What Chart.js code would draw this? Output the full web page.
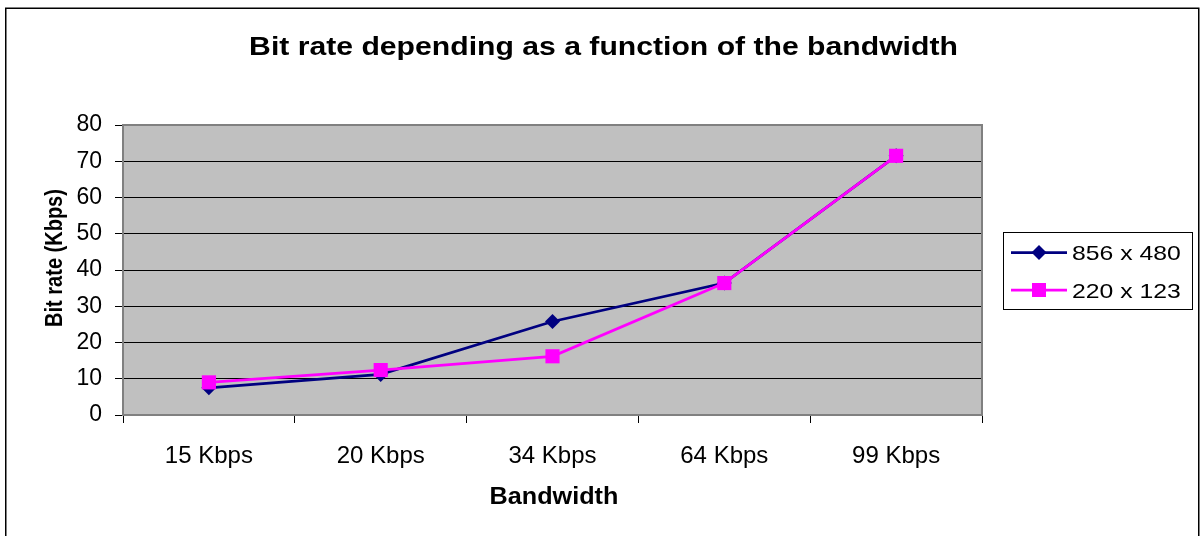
<!DOCTYPE html>
<html>
<head>
<meta charset="utf-8">
<script src="https://cdn.jsdelivr.net/npm/chart.js@4/dist/chart.umd.min.js"></script>
<style>
  html, body { margin: 0; padding: 0; background: #fff; }
  canvas { display: block; }
</style>
</head>
<body>
<canvas id="chart" width="1202" height="536"></canvas>
<script>
// Bandwidth categories on the x axis
const bandwidths = ['15 Kbps', '20 Kbps', '34 Kbps', '64 Kbps', '99 Kbps'];
// Measured bit rate (Kbps) per resolution
const rate856x480 = [7.5, 11.2, 25.8, 36.4, 71.5];
const rate220x123 = [9.0, 12.4, 16.2, 36.4, 71.5];
// Series names
const seriesNames = ['856 x 480', '220 x 123'];
// Y axis range and step
const yMin = 0, yMax = 80, yStep = 10;

const chartTitle = 'Bit rate depending as a function of the bandwidth';
const xTitle = 'Bandwidth';
const yTitle = 'Bit rate (Kbps)';

const FONT = "'Liberation Sans', Arial, Helvetica, sans-serif";
const NAVY = '#000080';
const MAGENTA = '#FF00FF';

// Background, frames, titles and legend drawn around the Chart.js plot
const decorations = {
  id: 'decorations',
  beforeDraw(chart) {
    const ctx = chart.ctx;
    const a = chart.chartArea;
    ctx.save();
    ctx.fillStyle = '#ffffff';
    ctx.fillRect(0, 0, chart.width, chart.height);
    // outer frame
    ctx.strokeStyle = '#000000';
    ctx.lineWidth = 1.5;
    ctx.strokeRect(5.75, 8.25, 1193, 540);
    // plot area fill
    ctx.fillStyle = '#C0C0C0';
    ctx.fillRect(a.left, a.top, a.right - a.left, a.bottom - a.top);
    ctx.restore();
  },
  beforeDatasetsDraw(chart) {
    const ctx = chart.ctx;
    const a = chart.chartArea;
    ctx.save();
    ctx.strokeStyle = '#808080';
    ctx.lineWidth = 2;
    ctx.beginPath();
    ctx.moveTo(a.left, a.top);
    ctx.lineTo(a.right, a.top);
    ctx.lineTo(a.right, a.bottom);
    ctx.stroke();
    ctx.restore();
  },
  afterDraw(chart) {
    const ctx = chart.ctx;
    ctx.save();
    ctx.fillStyle = '#000000';

    // chart title
    ctx.font = 'bold 26px ' + FONT;
    ctx.textAlign = 'center';
    ctx.textBaseline = 'alphabetic';
    ctx.save();
    ctx.translate(603.5, 55);
    ctx.scale(1.16, 1);
    ctx.fillText(chartTitle, 0, 0);
    ctx.restore();

    // x axis title
    ctx.font = 'bold 24px ' + FONT;
    ctx.save();
    ctx.translate(554, 504);
    ctx.scale(1.05, 1);
    ctx.fillText(xTitle, 0, 0);
    ctx.restore();

    // y axis title
    ctx.font = 'bold 20px ' + FONT;
    ctx.save();
    ctx.translate(61.5, 258);
    ctx.rotate(-Math.PI / 2);
    ctx.scale(1, 1.15);
    ctx.fillText(yTitle, 0, 0);
    ctx.restore();

    // legend
    const lx = 1003.5, ly = 232.5, lw = 189, lh = 77;
    ctx.fillStyle = '#ffffff';
    ctx.fillRect(lx, ly, lw, lh);
    ctx.strokeStyle = '#000000';
    ctx.lineWidth = 1;
    ctx.strokeRect(lx, ly, lw, lh);

    const rows = [
      { name: seriesNames[0], color: NAVY, y: 252.5, marker: 'diamond' },
      { name: seriesNames[1], color: MAGENTA, y: 290, marker: 'square' }
    ];
    rows.forEach(r => {
      ctx.strokeStyle = r.color;
      ctx.lineWidth = 2.75;
      ctx.beginPath();
      ctx.moveTo(1011, r.y);
      ctx.lineTo(1067, r.y);
      ctx.stroke();
      ctx.fillStyle = r.color;
      const cx = 1039;
      ctx.beginPath();
      if (r.marker === 'diamond') {
        ctx.moveTo(cx, r.y - 7.5);
        ctx.lineTo(cx + 7.5, r.y);
        ctx.lineTo(cx, r.y + 7.5);
        ctx.lineTo(cx - 7.5, r.y);
        ctx.closePath();
      } else {
        ctx.rect(cx - 7, r.y - 7, 14, 14);
      }
      ctx.fill();
      ctx.fillStyle = '#000000';
      ctx.font = '21px ' + FONT;
      ctx.textAlign = 'left';
      ctx.save();
      ctx.translate(1072, r.y + 7.5);
      ctx.scale(1.18, 1);
      ctx.fillText(r.name, 0, 0);
      ctx.restore();
    });
    ctx.restore();
  }
};

new Chart(document.getElementById('chart'), {
  type: 'line',
  data: {
    labels: bandwidths,
    datasets: [
      {
        label: seriesNames[0],
        data: rate856x480,
        borderColor: NAVY,
        backgroundColor: NAVY,
        borderWidth: 2.75,
        pointStyle: 'rectRot',
        pointRadius: 7.5,
        pointBorderWidth: 0,
        tension: 0,
        order: 1
      },
      {
        label: seriesNames[1],
        data: rate220x123,
        borderColor: MAGENTA,
        backgroundColor: MAGENTA,
        borderWidth: 2.75,
        pointStyle: 'rect',
        pointRadius: 10,
        pointBorderWidth: 0,
        tension: 0,
        order: 0
      }
    ]
  },
  options: {
    responsive: false,
    animation: false,
    devicePixelRatio: 1,
    layout: { padding: { left: 0, top: 125, right: 220, bottom: 0 } },
    plugins: {
      legend: { display: false },
      title: { display: false },
      tooltip: { enabled: false }
    },
    scales: {
      x: {
        type: 'category',
        offset: true,
        grid: {
          offset: true,
          drawOnChartArea: false,
          drawTicks: true,
          tickLength: 8,
          tickColor: '#000000',
          tickWidth: 1
        },
        border: { display: true, color: '#808080', width: 2 },
        ticks: {
          color: '#000000',
          font: { family: FONT, size: 24 },
          padding: 19,
          maxRotation: 0,
          autoSkip: false
        },
        afterFit(scale) { scale.height = 121; }
      },
      y: {
        min: yMin,
        max: yMax,
        grid: {
          color: c => (c.tick && (c.tick.value === yMax || c.tick.value === yMin)) ? '#808080' : '#000000',
          lineWidth: 1,
          drawTicks: true,
          tickLength: 8,
          tickColor: '#000000'
        },
        border: { display: true, color: '#808080', width: 2 },
        ticks: {
          stepSize: yStep,
          color: '#000000',
          font: { family: FONT, size: 23 },
          padding: 13
        },
        afterFit(scale) { scale.width = 123; }
      }
    }
  },
  plugins: [decorations]
});
</script>
</body>
</html>
